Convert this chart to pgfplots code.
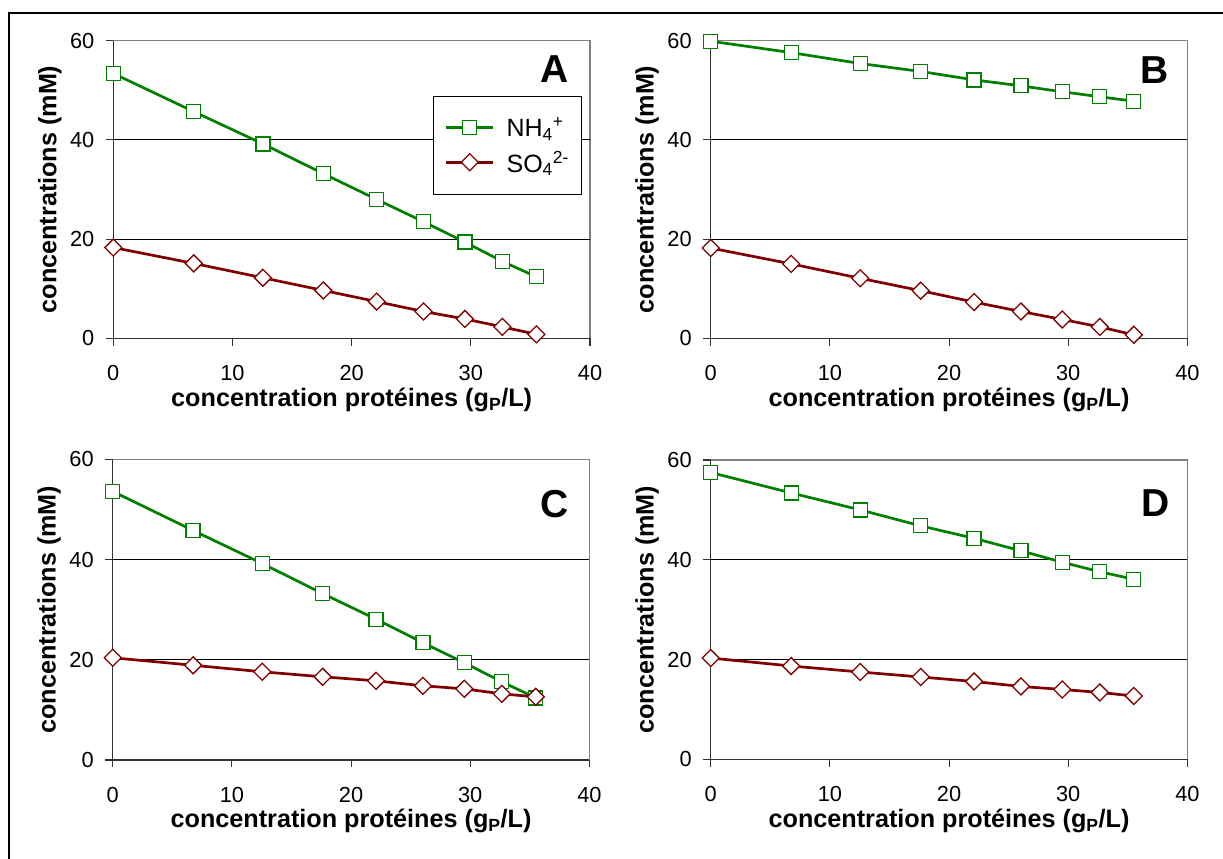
\documentclass[border=0pt]{standalone}
\usepackage{fontspec}
\setmainfont{Liberation Sans}
\usepackage{pgfplots}
\pgfplotsset{compat=1.18}
\definecolor{cgreen}{RGB}{0,128,0}
\definecolor{cred}{RGB}{128,0,0}
\tikzset{letter/.style={font=\fontsize{39}{42}\selectfont\bfseries}}
\pgfplotsset{
  panel/.style={
    scale only axis, width=476.7pt, height=297.6pt,
    xmin=0, xmax=40, ymin=0, ymax=60,
    xtick={0,10,20,30,40}, ytick={0,20,40,60},
    axis lines=left, axis line style={-, draw=black!80, line width=1.1pt},
    axis background/.style={draw=gray, line width=1.2pt},
    tick align=outside, major tick length=7.5pt,
    tick style={draw=black!80, line width=1.1pt},
    extra y ticks={20,40}, extra y tick labels={},
    extra y tick style={grid=major},
    major grid style={black, line width=0.9pt},
    /pgf/number format/assume math mode=true,
    tick label style={font=\fontsize{21.8}{24}\selectfont},
    xticklabel style={yshift=-16pt},
    yticklabel style={xshift=-8pt},
    every axis x label/.style={at={(rel axis cs:0.5,0)}, anchor=base, yshift=-68pt, font=\fontsize{25.2}{28}\selectfont\bfseries},
    every axis y label/.style={at={(rel axis cs:0,0.5)}, xshift=-57pt, rotate=90, anchor=base, font=\fontsize{25.2}{28}\selectfont\bfseries},
    xlabel={concentration protéines (g\textsubscript{P}/L)},
    ylabel={concentrations (mM)},
    clip=false,
  },
  nh/.style={cgreen, line width=2.7pt, mark=square*, mark size=7pt, mark options={fill=white, draw=cgreen, line width=1.3pt, solid}},
  so/.style={cred, line width=2.7pt, mark=square*, mark size=6pt, mark options={rotate=45, fill=white, draw=cred, line width=1.3pt, solid}},
}
\begin{document}
\begin{tikzpicture}
\useasboundingbox (0,0) rectangle (1223pt,859pt);
\draw[line width=2pt] (9pt,0pt) -- (9pt,846pt) -- (1223pt,846pt);

% Panel A
\begin{axis}[panel, at={(113.3pt,520.7pt)}, anchor=south west,
  legend style={at={(rel axis cs:0.670,0.814)}, anchor=north west, draw=black, fill=white,
    font=\fontsize{25}{28}\selectfont, inner xsep=12pt, inner ysep=21pt, row sep=13pt, column sep=12pt,
    nodes={inner sep=0pt}},
  legend cell align=left,
  legend image code/.code={\draw[mark repeat=2, mark phase=2, #1] plot coordinates {(0pt,0pt) (23.5pt,0pt) (47pt,0pt)};}]
\addplot[nh] coordinates {(0,53.4) (6.75,45.7) (12.55,39.2) (17.62,33.2) (22.1,28.0) (26.03,23.5) (29.5,19.4) (32.65,15.5) (35.5,12.4)};
\addlegendentry{NH\textsubscript{4}\textsuperscript{+}}
\addplot[so] coordinates {(0,18.3) (6.75,15.1) (12.55,12.2) (17.62,9.65) (22.1,7.4) (26.03,5.4) (29.5,3.9) (32.65,2.3) (35.5,0.8)};
\addlegendentry{SO\textsubscript{4}\textsuperscript{2-}\hspace{8pt}}
\node[letter] at (rel axis cs:0.926,0.904) {A};
\end{axis}

% Panel B
\begin{axis}[panel, at={(710.7pt,520.7pt)}, anchor=south west]
\addplot[nh] coordinates {(0,59.9) (6.75,57.6) (12.55,55.4) (17.62,53.8) (22.1,52.1) (26.03,50.9) (29.5,49.7) (32.65,48.7) (35.5,47.8)};
\addplot[so] coordinates {(0,18.2) (6.75,15.0) (12.55,12.1) (17.62,9.6) (22.1,7.3) (26.03,5.4) (29.5,3.8) (32.65,2.3) (35.5,0.7)};
\node[letter] at (rel axis cs:0.932,0.9) {B};
\end{axis}

% Panel C
\begin{axis}[panel, height=300.7pt, at={(112.7pt,99pt)}, anchor=south west]
\addplot[nh] coordinates {(0,53.6) (6.75,45.8) (12.55,39.2) (17.62,33.2) (22.1,28.1) (26.03,23.4) (29.5,19.4) (32.65,15.6) (35.5,12.4)};
\addplot[so] coordinates {(0,20.4) (6.75,18.9) (12.55,17.6) (17.62,16.6) (22.1,15.8) (26.03,14.8) (29.5,14.2) (32.65,13.2) (35.5,12.6)};
\node[letter] at (rel axis cs:0.928,0.85) {C};
\end{axis}

% Panel D
\begin{axis}[panel, height=299.3pt, at={(710.7pt,99.7pt)}, anchor=south west]
\addplot[nh] coordinates {(0,57.5) (6.75,53.4) (12.55,50.0) (17.62,46.8) (22.1,44.3) (26.03,41.8) (29.5,39.5) (32.65,37.6) (35.5,36.1)};
\addplot[so] coordinates {(0,20.3) (6.75,18.7) (12.55,17.5) (17.62,16.5) (22.1,15.6) (26.03,14.6) (29.5,14.0) (32.65,13.4) (35.5,12.7)};
\node[letter] at (rel axis cs:0.933,0.855) {D};
\end{axis}
\end{tikzpicture}
\end{document}
